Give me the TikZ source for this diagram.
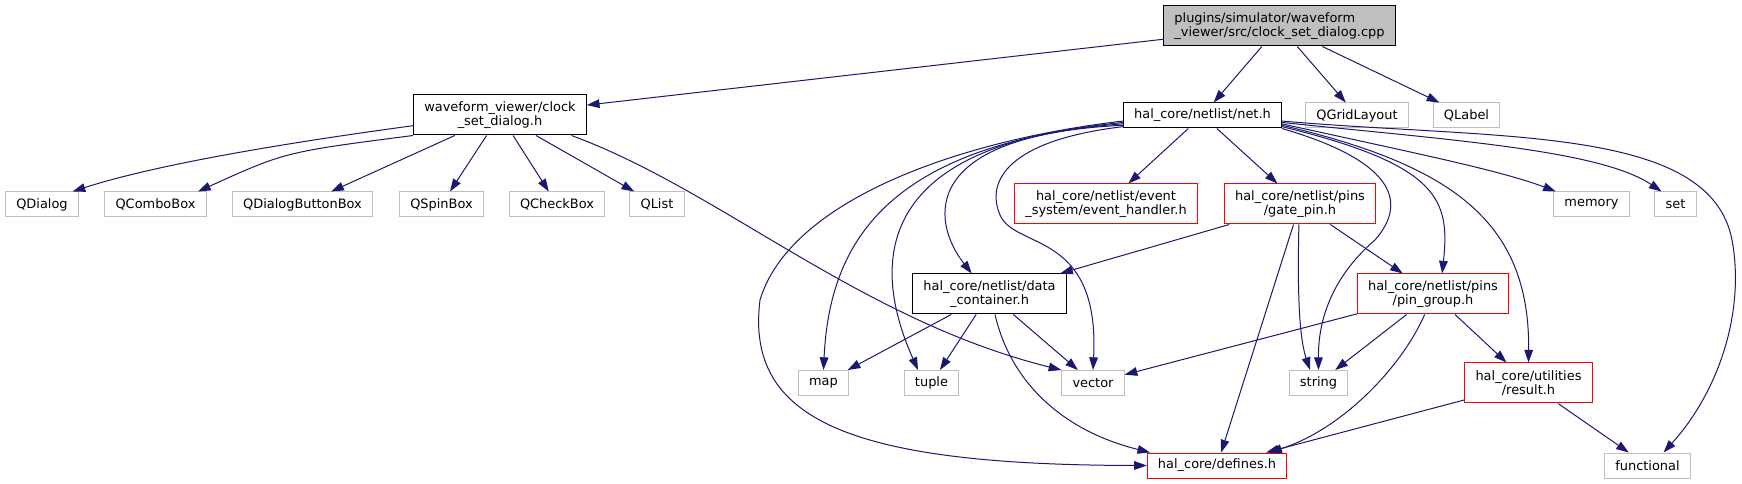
\documentclass[tikz,border=0pt]{standalone}
\usepackage{fontspec}
\setmainfont{DejaVu Sans}
\usetikzlibrary{arrows.meta}

\definecolor{edgeblue}{HTML}{191970}
\definecolor{grey75}{HTML}{BFBFBF}

\begin{document}
\begin{tikzpicture}[x=0.75pt,y=-0.75pt,
        font=\fontsize{9.7}{10.7}\selectfont,
        hdr/.style={draw,line width=0.75pt,inner xsep=8pt,inner ysep=1pt,minimum height=18.75pt,align=center},
        two/.style={minimum height=30pt},
        blk/.style={hdr,draw=black},
        gry/.style={hdr,draw=grey75},
        redbox/.style={hdr,draw=red},
        rootbox/.style={hdr,two,draw=black,fill=grey75,align=left},
        dep/.style={draw=edgeblue,line width=0.75pt,-{Triangle[length=9.5pt,width=6.5pt]}}]
        \fill[white] (0,0) rectangle (1742,484);
        \useasboundingbox (0,0) rectangle (1742,484);

        \node[rootbox] (cpp) at (1279.5,26) {plugins/simulator/waveform\\\_viewer/src/clock\_set\_dialog.cpp};
        \node[blk,two] (dialogh) at (500,115) {waveform\_viewer/clock\\\_set\_dialog.h};
        \node[blk] (neth) at (1202.5,115.5) {hal\_core/netlist/net.h};
        \node[gry] (qgrid) at (1357,115.5) {QGridLayout};
        \node[gry] (qlabel) at (1466.5,115.5) {QLabel};

        \node[gry] (qdialog) at (42,204.5) {QDialog};
        \node[gry] (qcombo) at (155.5,204.5) {QComboBox};
        \node[gry] (qbtnbox) at (302.5,204.5) {QDialogButtonBox};
        \node[gry] (qspin) at (441.5,204.5) {QSpinBox};
        \node[gry] (qcheck) at (557,204.5) {QCheckBox};
        \node[gry] (qlist) at (657,204.5) {QList};
        \node[redbox,two] (eventh) at (1106,204) {hal\_core/netlist/event\\\_system/event\_handler.h};
        \node[redbox,two] (gatepin) at (1300,204) {hal\_core/netlist/pins\\/gate\_pin.h};
        \node[gry] (memory) at (1591.5,204.5) {memory};
        \node[gry] (stdset) at (1675.5,204.5) {set};

        \node[blk,two] (datac) at (989.5,294) {hal\_core/netlist/data\\\_container.h};
        \node[redbox,two] (pingroup) at (1433,294) {hal\_core/netlist/pins\\/pin\_group.h};

        \node[gry] (map) at (823.5,383) {map};
        \node[gry] (tuple) at (931.5,383) {tuple};
        \node[gry] (vector) at (1093,383) {vector};
        \node[gry] (string) at (1318.5,383) {string};
        \node[redbox,two] (result) at (1528.5,383) {hal\_core/utilities\\/result.h};

        \node[redbox] (defines) at (1217,465.5) {hal\_core/defines.h};
        \node[gry] (functional) at (1647.5,465.5) {functional};

        \draw[dep] (cpp) -- (dialogh);
        \draw[dep] (cpp) -- (neth);
        \draw[dep] (cpp) -- (qgrid);
        \draw[dep] (cpp) -- (qlabel);

        \draw[dep] (dialogh.-173) .. controls (330,137) and (170,160) .. (qdialog.23);
        \draw[dep] (dialogh.south west) .. controls (285,152) .. (qcombo.17);
        \draw[dep] (dialogh) -- (qbtnbox);
        \draw[dep] (dialogh) -- (qspin);
        \draw[dep] (dialogh) -- (qcheck);
        \draw[dep] (dialogh) -- (qlist);
        \draw[dep] (dialogh.-16) .. controls (720,190) and (860,320) .. (vector.north west);

        \draw[dep] (neth.184) .. controls (960,140) and (790,200) .. (760,300) .. controls (745,420) and (850,465) .. (defines.west);
        \draw[dep] (neth.185) .. controls (900,145) and (830,230) .. (map.north);
        \draw[dep] (neth.186) .. controls (900,140) and (860,240) .. (tuple.136);
        \draw[dep] (neth.187) .. controls (920,135) and (930,220) .. (datac.131);
        \draw[dep] (neth.188) .. controls (1010,140) and (985,180) .. (1000,215) .. controls (1015,250) and (1100,230) .. (vector.north);
        \draw[dep] (neth) -- (eventh);
        \draw[dep] (neth) -- (gatepin);
        \draw[dep] (neth.south east) .. controls (1390,160) and (1410,200) .. (1375,240) .. controls (1340,270) and (1318,310) .. (string.north);
        \draw[dep] (neth.-8) .. controls (1440,165) and (1450,200) .. (pingroup.66);
        \draw[dep] (neth.-7) .. controls (1450,165) and (1530,220) .. (result.north);
        \draw[dep] (neth.-6) .. controls (1400,150) and (1500,170) .. (memory.160);
        \draw[dep] (neth.-5) .. controls (1450,140) and (1600,150) .. (stdset.137);
        \draw[dep] (neth.-4) .. controls (1500,140) and (1710,125) .. (1732,240) .. controls (1745,310) and (1720,390) .. (functional.39);

        \draw[dep] (gatepin) -- (datac);
        \draw[dep] (gatepin) -- (defines);
        \draw[dep] (gatepin.-93) .. controls (1297,300) and (1300,340) .. (string.123);
        \draw[dep] (gatepin) -- (pingroup);

        \draw[dep] (datac) -- (map);
        \draw[dep] (datac) -- (tuple);
        \draw[dep] (datac.-75) .. controls (1010,380) and (1060,430) .. (defines.169);
        \draw[dep] (datac) -- (vector);

        \draw[dep] (pingroup) -- (vector);
        \draw[dep] (pingroup) -- (string);
        \draw[dep] (pingroup.-112) .. controls (1400,370) and (1340,430) .. (defines.14);
        \draw[dep] (pingroup) -- (result);

        \draw[dep] (result) -- (defines);
        \draw[dep] (result) -- (functional);
\end{tikzpicture}
\end{document}
